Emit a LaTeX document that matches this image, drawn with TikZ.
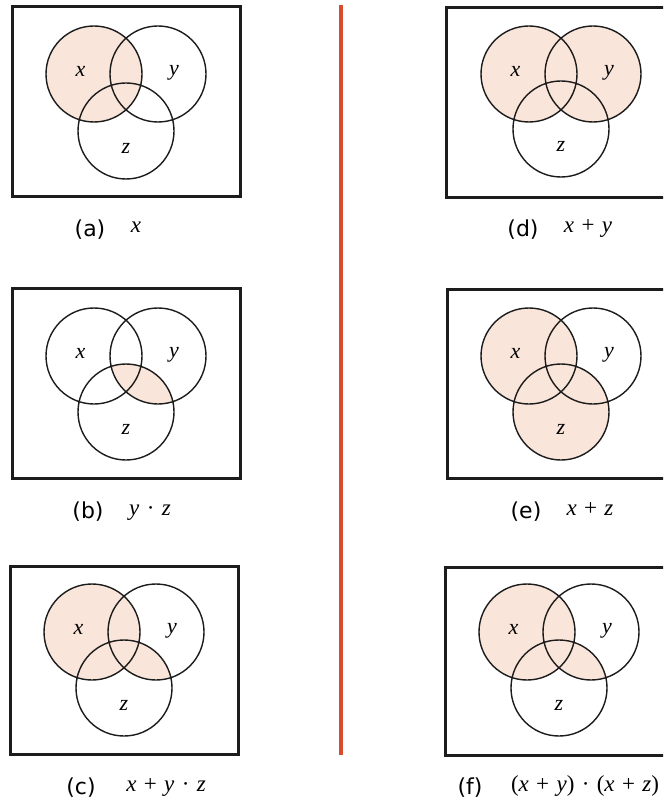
\documentclass[tikz,border=0pt]{standalone}
\usepackage{fontspec}
\setmainfont{Liberation Serif}
\newfontfamily\lblfont{DejaVu Sans}
\definecolor{tintcol}{RGB}{249,229,218}
\definecolor{divred}{RGB}{216,76,44}
\definecolor{ink}{RGB}{28,28,28}
\newcommand\ivar[1]{\textit{#1}}
\newcommand\op[1]{\hspace{0.32em}#1\hspace{0.32em}}
\newcommand\vennset[4]{%
  \coordinate (#1X) at #2;
  \coordinate (#1Y) at #3;
  \coordinate (#1Z) at #4;}
\newcommand\vennrings[1]{%
  \draw[ring] (#1X) circle (48) (#1Y) circle (48) (#1Z) circle (48);
  \node[var] (#1x) at ([shift={(-13.5,-3)}]#1X) {x};
  \node[var] (#1y) at ([shift={(16,-1.5)}]#1Y) {y};
  \node[var] (#1z) at ([shift={(0,17)}]#1Z) {z};}
\begin{document}
\begin{tikzpicture}[x=1pt,y=-1pt,
  frame/.style={draw=ink,line width=3pt},
  ring/.style={draw=ink,line width=1.4pt},
  tint/.style={fill=tintcol},
  var/.style={font=\fontsize{22}{22}\selectfont\itshape,inner sep=0pt},
  tag/.style={font=\lblfont\fontsize{22}{22}\selectfont,inner sep=0pt},
  expr/.style={font=\fontsize{23}{23}\selectfont,inner sep=0pt,anchor=base}]
\useasboundingbox (0,0) rectangle (663,802);
\clip (0,0) rectangle (663,802);

% coordinates of the circle centres
\vennset{a}{(94,74)}{(158,74)}{(126,131)}
\vennset{b}{(94,356)}{(158,356)}{(126,412)}
\vennset{c}{(92,632)}{(156,632)}{(124,688)}
\vennset{d}{(529,74)}{(593,74)}{(561,129)}
\vennset{e}{(529,356)}{(593,356)}{(561,412)}
\vennset{f}{(527,632)}{(591,632)}{(559,688)}

% shaded regions
\fill[tint] (aX) circle (48);
\begin{scope}\clip (bY) circle (48); \fill[tint] (bZ) circle (48);\end{scope}
\fill[tint] (cX) circle (48);
\begin{scope}\clip (cY) circle (48); \fill[tint] (cZ) circle (48);\end{scope}
\fill[tint] (dX) circle (48) (dY) circle (48);
\fill[tint] (eX) circle (48) (eZ) circle (48);
\fill[tint] (fX) circle (48);
\begin{scope}\clip (fY) circle (48); \fill[tint] (fZ) circle (48);\end{scope}

% circles and their letters
\vennrings{a}
\vennrings{b}
\vennrings{c}
\vennrings{d}
\vennrings{e}
\vennrings{f}

% frames
\draw[frame] (12,7) rectangle (240,197);
\draw[frame] (12,288) rectangle (240,478);
\draw[frame] (10,566) rectangle (238,754);
\draw[frame] (446,8) rectangle (676,198);
\draw[frame] (447,289) rectangle (677,478);
\draw[frame] (445,567) rectangle (675,755);

% divider
\draw[divred,line width=3.5pt] (341,5) -- (341,755);

% captions
\node[tag] (ta) at (90,230) {(a)};
\node[expr] (ea) at (136,233) {\ivar{x}};
\node[tag] (tb) at (88,512) {(b)};
\node[expr] (eb) at (150,515) {\ivar{y}\op{·}\ivar{z}};
\node[tag] (tc) at (81,788) {(c)};
\node[expr] (ec) at (166,791) {\ivar{x}\op{+}\ivar{y}\op{·}\ivar{z}};
\node[tag] (td) at (523,230) {(d)};
\node[expr] (ed) at (588,233) {\ivar{x}\op{+}\ivar{y}};
\node[tag] (te) at (526,512) {(e)};
\node[expr] (ee) at (590,515) {\ivar{x}\op{+}\ivar{z}};
\node[tag] (tf) at (470,788) {(f)};
\node[expr] (ef) at (585,791) {(\ivar{x}\op{+}\ivar{y})\op{·}(\ivar{x}\op{+}\ivar{z})};
\end{tikzpicture}
\end{document}
